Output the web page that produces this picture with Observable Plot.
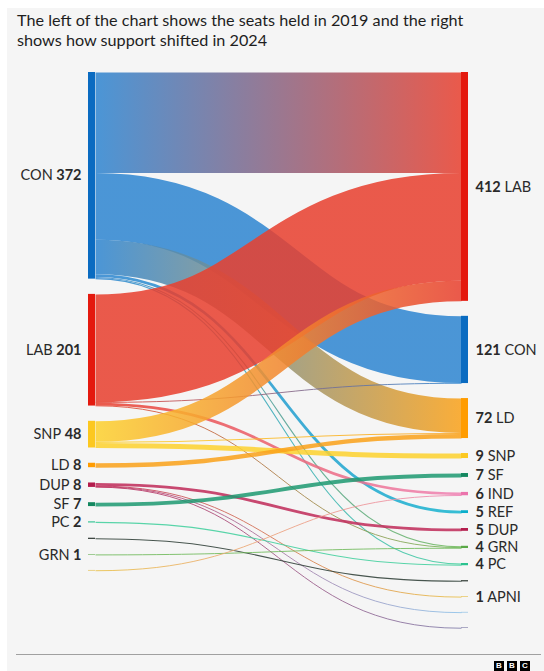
<!DOCTYPE html>
<html>
<head>
<meta charset="utf-8">
<script src="https://cdn.jsdelivr.net/npm/d3@7"></script>
<script src="https://cdn.jsdelivr.net/npm/@observablehq/plot@0.6"></script>
<style>
  html, body { margin: 0; padding: 0; background: #ffffff; }
  body { width: 544px; height: 671px; overflow: hidden; position: relative; font-family: Lato, "Noto Sans", sans-serif; }
  #panel { position: absolute; left: 7px; top: 8px; width: 537px; height: 663px; background: #f5f5f5; overflow: hidden; }
  #title { position: absolute; left: 10px; top: 2px; font-size: 16.2px; line-height: 20px; color: #1e1e1e; }
  #chart { position: absolute; left: 0; top: 52px; }
  #rule { position: absolute; left: 9px; top: 646px; width: 525px; height: 1px; background: #a0a0a0; }
  #logo { position: absolute; left: 487px; top: 653px; display: flex; gap: 3px; }
  #logo span { display: block; width: 10px; height: 10px; background: #000; color: #fff; font: bold 8px/10px Arial, "Liberation Sans", sans-serif; text-align: center; }
</style>
</head>
<body>
<div id="panel">
  <div id="title">The left of the chart shows the seats held in 2019 and the right<br>shows how support shifted in 2024</div>
  <div id="chart"></div>
  <div id="rule"></div>
  <div id="logo"><span>B</span><span>B</span><span>C</span></div>
</div>
<script>
// ---------- data ----------
const leftParties  = ["CON", "LAB", "SNP", "LD", "DUP", "SF", "PC", "SDLP", "GRN", "APNI"];
const leftSeats    = [372, 201, 48, 8, 8, 7, 2, 2, 1, 1];
const leftLabelled = [true, true, true, true, true, true, true, false, true, false];

const rightParties  = ["LAB", "CON", "LD", "SNP", "SF", "IND", "REF", "DUP", "GRN", "PC", "SDLP", "APNI", "UUP", "TUV"];
const rightSeats    = [412, 121, 72, 9, 7, 6, 5, 5, 4, 4, 2, 1, 1, 1];
const rightLabelled = [true, true, true, true, true, true, true, true, true, true, false, true, false, false];

const flowFrom  = ["CON","CON","CON","CON","CON","CON","LAB","LAB","LAB","LAB","SNP","SNP","SNP","LD","DUP","DUP","DUP","DUP","SF","PC","SDLP","GRN","APNI"];
const flowTo    = ["LAB","CON","LD","REF","GRN","PC","LAB","CON","IND","GRN","LAB","LD","SNP","LD","DUP","APNI","UUP","TUV","SF","PC","SDLP","GRN","IND"];
const flowSeats = [181, 120, 62, 5, 2, 2, 194, 1, 5, 1, 37, 2, 9, 8, 5, 1, 1, 1, 7, 2, 2, 1, 1];

const linkColor = {CON:"#2f86d1", LAB:"#e8402f", SNP:"#fdd22f", LD:"#faa21b", DUP:"#c02c5a", SF:"#1f9a72",
  PC:"#3fcf9c", SDLP:"#2b3b33", GRN:"#6fb95a", APNI:"#e9bf45", IND:"#ef84b6", REF:"#17b5cf", UUP:"#8cc2ea", TUV:"#7e7ba8"};
const barColor = {CON:"#0a6bc1", LAB:"#e4190e", SNP:"#fcc820", LD:"#ff9c00", DUP:"#b31c4c", SF:"#13875f",
  PC:"#2ac28f", SDLP:"#1f2a24", GRN:"#5aa846", APNI:"#e2b52f", IND:"#eb74ac", REF:"#0aaecb", UUP:"#7ab5e2", TUV:"#6f6c9c"};

// ---------- layout (in seat units) ----------
const GAP_L = 27.5, GAP_R = 27;
function stack(names, seats, shown, gap) {
  let y = 0;
  return names.map((name, i) => {
    const n = {name, seats: seats[i], shown: shown[i], y0: y, y1: y + seats[i]};
    y = n.y1 + gap;
    return n;
  });
}
const leftNodes = stack(leftParties, leftSeats, leftLabelled, GAP_L);
const rightNodes = stack(rightParties, rightSeats, rightLabelled, GAP_R);
const Lidx = Object.fromEntries(leftParties.map((p, i) => [p, i]));
const Ridx = Object.fromEntries(rightParties.map((p, i) => [p, i]));
const links = flowFrom.map((f, i) => ({i, from: f, to: flowTo[i], seats: flowSeats[i]}));
for (const n of leftNodes) {
  let y = n.y0;
  links.filter(l => l.from === n.name).sort((a, b) => Ridx[a.to] - Ridx[b.to])
    .forEach(l => { l.sy = y + l.seats / 2; y += l.seats; });
}
for (const n of rightNodes) {
  let y = n.y0;
  links.filter(l => l.to === n.name).sort((a, b) => Lidx[a.from] - Lidx[b.from])
    .forEach(l => { l.ty = y + l.seats / 2; y += l.seats; });
}
const yMax = Math.max(leftNodes.at(-1).y1, rightNodes.at(-1).y1);

// ---------- plot ----------
const W = 537, H = 611;
const mTop = 12, mBottom = 43, mLeft = 88, mRight = 83;
const k = (H - mTop - mBottom) / yMax;          // px per seat
const barW = 7 / (W - mLeft - mRight);          // bar width in x units

const plot = Plot.plot({
  width: W, height: H,
  marginTop: mTop, marginBottom: mBottom, marginLeft: mLeft, marginRight: mRight,
  x: {domain: [0, 1], axis: null},
  y: {domain: [0, yMax], reverse: true, axis: null},
  color: {type: "identity"},
  style: {background: "transparent", fontFamily: 'Lato, "Noto Sans", sans-serif', fontSize: "14px", color: "#333"},
  marks: [
    Plot.link(links, {
      x1: () => 0, x2: () => 1, y1: "sy", y2: "ty",
      curve: "bump-x",
      stroke: d => `url(#flow${d.i})`,
      strokeWidth: d => Math.max(1, d.seats * k),
      strokeOpacity: 0.86
    }),
    Plot.rect(leftNodes, {x1: () => -barW, x2: () => 0, y1: "y0", y2: "y1", fill: d => barColor[d.name]}),
    Plot.rect(rightNodes, {x1: () => 1, x2: () => 1 + barW, y1: "y0", y2: "y1", fill: d => barColor[d.name]}),
    Plot.text(leftNodes.filter(d => d.shown), {
      x: () => 0, y: d => (d.y0 + d.y1) / 2, text: d => `${d.name} ${d.seats}`,
      textAnchor: "end", dx: -14, fill: "#2a2a2a", fontSize: 14.5, className: "left-labels"
    }),
    Plot.text(rightNodes.filter(d => d.shown), {
      x: () => 1, y: d => (d.y0 + d.y1) / 2, text: d => `${d.seats} ${d.name}`,
      textAnchor: "start", dx: 14, fill: "#2a2a2a", fontSize: 14.5, className: "right-labels"
    })
  ]
});

// gradients for links (source colour -> target colour)
const NS = "http://www.w3.org/2000/svg";
const xs = plot.scale("x");
const X0 = xs.apply(0), X1 = xs.apply(1);
const defs = document.createElementNS(NS, "defs");
for (const l of links) {
  const g = document.createElementNS(NS, "linearGradient");
  g.setAttribute("id", `flow${l.i}`);
  g.setAttribute("gradientUnits", "userSpaceOnUse");
  g.setAttribute("x1", X0); g.setAttribute("x2", X1);
  g.setAttribute("y1", 0); g.setAttribute("y2", 0);
  [[0, linkColor[l.from]], [1, linkColor[l.to]]].forEach(([o, c]) => {
    const s = document.createElementNS(NS, "stop");
    s.setAttribute("offset", o); s.setAttribute("stop-color", c);
    g.appendChild(s);
  });
  defs.appendChild(g);
}
plot.insertBefore(defs, plot.firstChild);

// bold numbers in labels
function boldify(cls, numberFirst) {
  plot.querySelectorAll(`.${cls} text, text.${cls}`).forEach(t => {
    const parts = t.textContent.trim().split(" ");
    while (t.firstChild) t.removeChild(t.firstChild);
    const a = document.createElementNS(NS, "tspan");
    const b = document.createElementNS(NS, "tspan");
    a.textContent = parts[0];
    b.textContent = " " + parts[1];
    (numberFirst ? a : b).setAttribute("style", "font-weight:700");
    t.append(a, b);
  });
}
boldify("left-labels", false);
boldify("right-labels", true);

document.getElementById("chart").appendChild(plot);
</script>
</body>
</html>
